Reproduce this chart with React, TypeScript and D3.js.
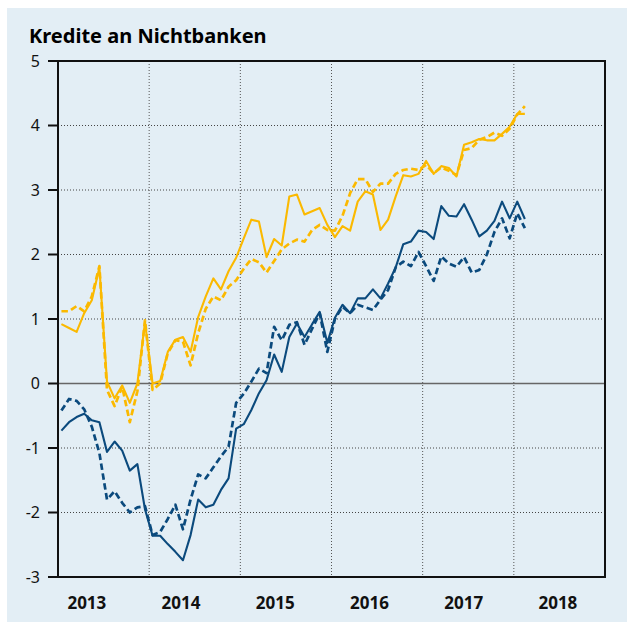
import React from "react";
import * as d3 from "d3";

const title = "Kredite an Nichtbanken";
const yTicks = [-3, -2, -1, 0, 1, 2, 3, 4, 5];
const yearLabels = ["2013", "2014", "2015", "2016", "2017", "2018"];
const yearBoundaries = [12, 24, 36, 48, 60];

// monthly values, Jan 2013 .. Feb 2018
const yellowSolid = [
  0.92, 0.86, 0.8, 1.09, 1.29, 1.8, 0.03, -0.23, -0.03, -0.3, 0.0, 0.95,
  0.0, 0.04, 0.49, 0.68, 0.72, 0.49, 1.03, 1.35, 1.63, 1.46, 1.74, 1.95,
  2.25, 2.54, 2.51, 1.96, 2.24, 2.14, 2.9, 2.93, 2.62, 2.67, 2.72, 2.46,
  2.27, 2.44, 2.37, 2.82, 2.98, 2.93, 2.38, 2.54, 2.9, 3.23, 3.21, 3.25,
  3.45, 3.25, 3.37, 3.34, 3.21, 3.7, 3.74, 3.79, 3.77, 3.77, 3.87, 3.98,
  4.18, 4.18,
];
const yellowDashed = [
  1.12, 1.12, 1.2, 1.12, 1.35, 1.82, -0.1, -0.35, -0.05, -0.6, -0.12, 0.98,
  -0.1, 0.0, 0.47, 0.67, 0.65, 0.28, 0.78, 1.16, 1.35, 1.29, 1.5, 1.6,
  1.78, 1.93, 1.88, 1.72, 1.9, 2.08, 2.17, 2.23, 2.2, 2.38, 2.46, 2.38,
  2.37, 2.6, 2.95, 3.17, 3.17, 2.97, 3.1, 3.1, 3.25, 3.31, 3.33, 3.31,
  3.39, 3.26, 3.35, 3.3, 3.23, 3.62, 3.65, 3.78, 3.82, 3.89, 3.84, 3.95,
  4.17, 4.3,
];
const blueSolid = [
  -0.73, -0.6, -0.52, -0.47, -0.57, -0.6, -1.06, -0.9, -1.04, -1.35, -1.25, -1.95,
  -2.36, -2.36, -2.49, -2.61, -2.74, -2.35, -1.8, -1.92, -1.88, -1.65, -1.47, -0.7,
  -0.63, -0.41, -0.15, 0.05, 0.45, 0.18, 0.72, 0.93, 0.72, 0.92, 1.11, 0.63,
  1.02, 1.22, 1.09, 1.32, 1.32, 1.46, 1.32, 1.55, 1.8, 2.16, 2.2, 2.37,
  2.35, 2.24, 2.75, 2.6, 2.59, 2.78, 2.54, 2.28, 2.37, 2.52, 2.82, 2.56,
  2.82, 2.55,
];
const blueDashed = [
  -0.42, -0.24, -0.27, -0.4, -0.67, -1.08, -1.8, -1.67, -1.85, -2.0, -1.92, -1.9,
  -2.35, -2.3, -2.1, -1.88, -2.26, -1.8, -1.41, -1.47, -1.3, -1.13, -0.98, -0.3,
  -0.16, 0.03, 0.23, 0.16, 0.88, 0.67, 0.91, 0.95, 0.6, 0.85, 1.09, 0.49,
  1.0, 1.19, 1.09, 1.22, 1.18, 1.14, 1.3, 1.45, 1.8, 1.89, 1.82, 2.04,
  1.82, 1.59, 1.97, 1.86, 1.81, 1.96, 1.72, 1.76, 2.0, 2.35, 2.56, 2.25,
  2.64, 2.41,
];

const YELLOW = "#fbb900";
const BLUE = "#0b4a7d";
const BG = "#e3eef5";
const FONT = "'Noto Sans', 'Open Sans', sans-serif";

export default function App() {
  const W = 627;
  const H = 623;
  const L = 58, R = 605, T = 61, B = 577;
  const x = d3.scaleLinear().domain([0, 72]).range([L, R]);
  const y = d3.scaleLinear().domain([-3, 5]).range([B, T]);
  const xl = d3.scalePoint<string>().domain(yearLabels).range([x(3.8), x(65.8)]);
  const line = d3
    .line<number>()
    .x((_, i) => x(i + 0.45))
    .y((d) => y(d));

  const series = [
    { data: blueDashed, color: BLUE, dash: "6.5,3.5", w: 2.7 },
    { data: blueSolid, color: BLUE, dash: undefined, w: 2.1 },
    { data: yellowDashed, color: YELLOW, dash: "6.5,3.5", w: 2.7 },
    { data: yellowSolid, color: YELLOW, dash: undefined, w: 2.1 },
  ];

  return (
    <svg
      width={W}
      height={H}
      style={{ position: "absolute", left: 0, top: 0, display: "block" }}
      fontFamily={FONT}
    >
      <rect x={0} y={0} width={W} height={H} fill="#ffffff" />
      <rect x={7} y={8} width={W - 7} height={614} fill={BG} />
      <text x={29} y={43} fontSize={20} fontWeight={700} fill="#000">
        {title}
      </text>
      {/* horizontal grid */}
      {yTicks
        .filter((t) => t !== 0 && t !== -3 && t !== 5)
        .map((t) => (
          <line
            key={"h" + t}
            x1={L}
            x2={R}
            y1={y(t)}
            y2={y(t)}
            stroke="#444"
            strokeWidth={1}
            strokeDasharray="1,2"
          />
        ))}
      {/* vertical grid */}
      {yearBoundaries.map((m) => (
        <line
          key={"v" + m}
          x1={x(m)}
          x2={x(m)}
          y1={T}
          y2={B}
          stroke="#555"
          strokeWidth={1}
          strokeDasharray="1,2"
        />
      ))}
      {/* zero line */}
      <line x1={L} x2={R} y1={y(0)} y2={y(0)} stroke="#666" strokeWidth={1.6} />
      {/* series */}
      {series.map((s, i) => (
        <path
          key={i}
          d={line(s.data) || ""}
          fill="none"
          stroke={s.color}
          strokeWidth={s.w}
          strokeDasharray={s.dash}
          strokeLinejoin="round"
        />
      ))}
      {/* frame */}
      <rect x={L} y={T} width={R - L} height={B - T} fill="none" stroke="#111" strokeWidth={2} />
      {/* y ticks */}
      {yTicks.map((t) => (
        <g key={"t" + t}>
          <line x1={L - 10} x2={L} y1={y(t)} y2={y(t)} stroke="#111" strokeWidth={2} />
          <text
            x={40}
            y={y(t)}
            dy="0.35em"
            textAnchor="end"
            fontSize={16}
            fill="#111"
          >
            {t < 0 ? "-" + Math.abs(t) : String(t)}
          </text>
        </g>
      ))}
      {/* x labels */}
      {yearLabels.map((yr) => (
        <text
          key={yr}
          x={xl(yr)}
          y={609}
          textAnchor="middle"
          fontSize={17}
          fontWeight={700}
          fill="#111"
        >
          {yr}
        </text>
      ))}
    </svg>
  );
}
